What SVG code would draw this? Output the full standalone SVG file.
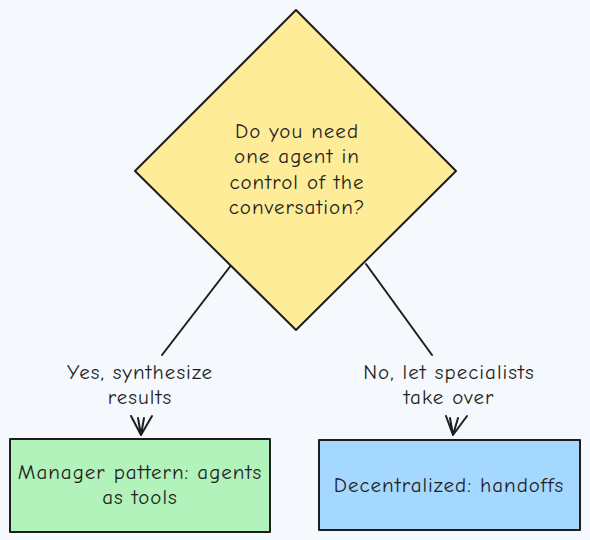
<svg xmlns="http://www.w3.org/2000/svg" width="590" height="540" viewBox="0 0 590 540">
<defs>
<style>
.n{stroke:#1e1e1e;stroke-width:2;stroke-linejoin:round}
.t{font-family:"Comic Neue","Liberation Sans","DejaVu Sans",sans-serif;font-size:21px;letter-spacing:1px;fill:#1e1e1e;text-anchor:middle}
.c{stroke:#1e1e1e;stroke-width:2;fill:none;stroke-linecap:round;stroke-linejoin:round}
</style>
</defs>
<rect x="0" y="0" width="590" height="540" fill="#f5f9fd"/>
<g id="connectors">
<path class="c" d="M232 264 L162 355"/>
<path class="c" d="M366 264 L432 355"/>
<path class="c" d="M131 416 L141 435 L152 416 M138 418 L141 435 L144 418"/>
<path class="c" d="M446 416 L453 435 L467 416 M450 418 L453 435 L458 418"/>
<text class="t" x="140" y="379">Yes, synthesize</text>
<text class="t" x="140" y="404">results</text>
<text class="t" x="449" y="379">No, let specialists</text>
<text class="t" x="449" y="404">take over</text>
</g>
<g id="decision">
<path class="n" fill="#ffec99" d="M296 10 L456 171 L296 330 L135 171 Z"/>
<text class="t" x="297" y="138">Do you need</text>
<text class="t" x="297" y="163">one agent in</text>
<text class="t" x="297" y="189">control of the</text>
<text class="t" x="297" y="214">conversation?</text>
</g>
<g id="manager">
<rect class="n" fill="#b2f2bb" x="10" y="439" width="260" height="93"/>
<text class="t" x="140" y="479">Manager pattern: agents</text>
<text class="t" x="140" y="504">as tools</text>
</g>
<g id="decentralized">
<rect class="n" fill="#a5d8ff" x="319" y="440" width="261" height="90"/>
<text class="t" x="449" y="492">Decentralized: handoffs</text>
</g>
</svg>
